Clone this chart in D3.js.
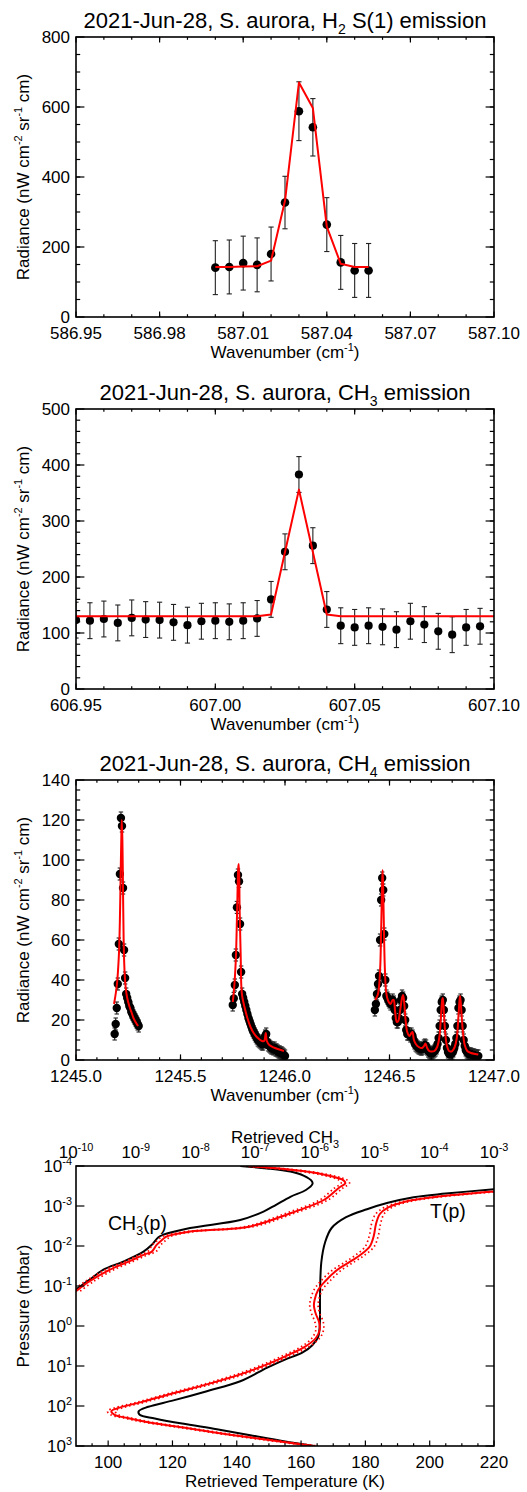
<!DOCTYPE html>
<html><head><meta charset="utf-8">
<script src="https://cdn.jsdelivr.net/npm/d3@7/dist/d3.min.js"></script>
<style>
body{margin:0;background:#fff}
svg{display:block}
text{font-family:"Liberation Sans",Arial,Helvetica,sans-serif;fill:#000}
</style>
</head><body>
<svg id="chart" width="527" height="1492"></svg>
<script>
// ---------------- DATA ----------------
// Panel 1: H2 S(1)
const h2XTicks = ["586.95","586.98","587.01","587.04","587.07","587.10"];
const h2YTicks = [0,200,400,600,800];
const h2Wn  = [587.000,587.005,587.010,587.015,587.020,587.025,587.030,587.035,587.040,587.045,587.050,587.055];
const h2Rad = [141,143,154,149,180,327,588,542,264,156,133,133];
const h2Err = [77,77,77,77,77,75,84,82,77,77,77,77];
const h2Fit = [143,143,144,145,161,332,670,597,258,152,143,143];

// Panel 2: CH3
const ch3XTicks = ["606.95","607.00","607.05","607.10"];
const ch3YTicks = [0,100,200,300,400,500];
const ch3Wn  = [606.950,606.955,606.960,606.965,606.970,606.975,606.980,606.985,606.990,606.995,
                607.000,607.005,607.010,607.015,607.020,607.025,607.030,607.035,607.040,607.045,
                607.050,607.055,607.060,607.065,607.070,607.075,607.080,607.085,607.090,607.095];
const ch3Rad = [123,122,125,118,127,124,123,119,114,121,
                122,120,122,126,160,245,383,256,142,113,
                110,113,111,106,121,115,103,97,110,112];
const ch3Err = [32,32,32,32,32,32,32,32,32,32,32,32,32,32,32,32,32,32,32,32,32,32,32,32,32,32,32,32,32,32];
const ch3FitWn  = [606.950,607.015,607.020,607.030,607.040,607.045,607.100];
const ch3FitRad = [130,130,133,356,133,130,130];

// Panel 3: CH4
const ch4XTicks = ["1245.0","1245.5","1246.0","1246.5","1247.0"];
const ch4YTicks = [0,20,40,60,80,100,120,140];
const ch4Wn = [
 1245.185,1245.190,1245.195,1245.200,1245.205,1245.210,1245.215,1245.220,1245.225,1245.230,1245.235,1245.240,
 1245.245,1245.250,1245.255,1245.260,1245.265,1245.270,1245.275,1245.280,1245.285,1245.290,1245.295,1245.300,
 1245.750,1245.755,1245.760,1245.765,1245.770,1245.775,1245.780,1245.785,1245.790,1245.795,
 1245.800,1245.805,1245.810,1245.815,1245.820,1245.825,1245.830,1245.835,1245.840,1245.845,
 1245.850,1245.855,1245.860,1245.865,1245.870,1245.875,1245.880,1245.885,1245.890,1245.895,
 1245.900,1245.905,1245.910,1245.915,1245.920,1245.925,1245.930,1245.935,1245.940,1245.945,
 1245.950,1245.955,1245.960,1245.965,1245.970,1245.975,1245.980,1245.985,1245.990,1245.995,1246.000,
 1246.430,1246.435,1246.440,1246.445,1246.450,1246.455,1246.460,1246.465,1246.470,1246.475,
 1246.480,1246.485,1246.490,1246.495,1246.500,1246.505,1246.510,1246.515,1246.520,1246.525,
 1246.530,1246.535,1246.540,1246.545,1246.550,1246.555,1246.560,1246.565,1246.570,1246.575,
 1246.580,1246.585,1246.590,1246.595,1246.600,1246.605,1246.610,1246.615,1246.620,1246.625,
 1246.630,1246.635,1246.640,1246.645,1246.650,1246.655,1246.660,1246.665,1246.670,1246.675,
 1246.680,1246.685,1246.690,1246.695,1246.700,1246.705,1246.710,1246.715,1246.720,1246.725,
 1246.730,1246.735,1246.740,1246.745,1246.750,1246.755,1246.760,1246.765,1246.770,1246.775,
 1246.780,1246.785,1246.790,1246.795,1246.800,1246.805,1246.810,1246.815,1246.820,1246.825,
 1246.830,1246.835,1246.840,1246.845,1246.850,1246.855,1246.860,1246.865,1246.870,1246.875,
 1246.880,1246.885,1246.890,1246.895,1246.900,1246.905,1246.910,1246.915,1246.920,1246.925];
const ch4Rad = [
 13,18,26,38,58,93,121,117,86,55,41,33,
 31,29,27,26,24,23,22,21,20,19,18,17,
 27.5,30.8,37.5,52.5,76.3,92.5,89.3,68,44,33,
 31,29,27,25,23,21,19.5,18,16.5,15,
 14,13,12,11,10,9.5,9,8.5,8,8,
 9,12,13,9,7.5,7,6.5,6,6,5.5,
 6,5,5,4.5,4,4,3.5,3.5,3,2.5,2,
 25,28,33,38,42,60,80,91,85,63,
 40,32,31,30,29,28,29,30,29,25,
 21,19,19,21,25,30,32,31,27,20,
 15,13,13,13,12,13,12,10,8.5,7.5,
 7,6.5,6,6,5.5,5.5,6,7,7.5,7,
 5.5,4.5,4,3.5,3.5,3.5,4,4.5,5,6,
 8,11,17,25,29,30,25,17,10,6,
 4,3,3,3,3.5,4.5,6,8,11,17,
 26,29,30,25,17,10,7,5,4,3.5,
 3,3,3,2.5,2.5,2.5,2,2,2,2];
const ch4Err = 3;
// fit, null separates the three spectral windows
const ch4FitWn = [
 1245.182,1245.195,1245.205,1245.210,1245.214,1245.217,1245.219,1245.222,1245.225,1245.228,1245.232,1245.238,1245.245,1245.255,1245.265,1245.275,1245.285,1245.297,null,
 1245.750,1245.756,1245.765,1245.771,1245.777,1245.779,1245.783,1245.788,1245.791,1245.795,1245.805,1245.820,1245.835,1245.850,1245.870,1245.890,1245.900,1245.908,1245.913,1245.925,1245.945,1245.965,1245.995,null,
 1246.432,1246.445,1246.455,1246.460,1246.464,1246.467,1246.470,1246.474,1246.478,1246.484,1246.492,1246.505,1246.515,1246.520,1246.527,1246.535,1246.542,1246.550,1246.560,1246.565,1246.570,1246.577,1246.585,1246.595,1246.605,1246.610,1246.617,1246.626,1246.640,1246.655,1246.665,1246.672,1246.680,1246.690,1246.700,1246.715,1246.728,1246.738,1246.746,1246.752,1246.755,1246.760,1246.767,1246.775,1246.785,1246.800,1246.812,1246.822,1246.830,1246.836,1246.838,1246.844,1246.852,1246.860,1246.872,1246.890,1246.910,1246.925];
const ch4FitRad = [
 28,37,52,70,95,112,120,110,85,60,45,36,31,27,24,21,19,17,null,
 29,35,51,75,97,98,75,52,37,32,27,21,16.5,13.5,11,9.5,9.5,13.5,9.5,7.5,6.3,5.5,4.5,null,
 30,33,45,65,85,95,85,62,45,34,30,28,30,30,24,19,19.5,24,31,32.5,29,20,14,12,13.5,14,10,8,6.5,6,7,8.3,6,4.5,4.2,4.5,6.5,11,21,30,31,24,13,7,4.5,4.5,6.5,11,22,31,32,24,13,7.5,4.5,3.5,3,2.7];

// Panel 4: retrieved profiles (log10 pressure in mbar)
const tXTicks = [100,120,140,160,180,200,220];
const pExpTicks = [-4,-3,-2,-1,0,1,2,3];
const qExpTicks = [-10,-9,-8,-7,-6,-5,-4,-3];
// CH3 prior (black): log10 mixing ratio, log10 p
const ch3PriorLogQ = [-7.25,-6.80,-6.41,-6.19,-6.05,-6.04,-6.15,-6.41,-6.65,-6.86,-7.25,-8.09,-8.54,-8.62,-8.73,-8.87,-9.21,-9.54,-9.77,-10.0];
const ch3PriorLogP = [-4.00,-3.94,-3.86,-3.76,-3.62,-3.55,-3.40,-3.23,-3.03,-2.86,-2.65,-2.45,-2.28,-2.22,-2.03,-1.86,-1.61,-1.41,-1.16,-0.91];
// CH3 retrieved (red)
const ch3RetLogQ = [-7.11,-6.24,-5.74,-5.52,-5.49,-5.60,-5.85,-6.41,-7.08,-8.09,-8.48,-8.56,-8.65,-8.73,-8.87,-9.09,-9.43,-9.77,-10.0];
const ch3RetLogP = [-4.00,-3.88,-3.75,-3.64,-3.57,-3.45,-3.15,-2.82,-2.49,-2.36,-2.24,-2.15,-2.03,-1.86,-1.78,-1.63,-1.41,-1.12,-0.87];
const ch3RetErr  = [0.07,0.07,0.07,0.07,0.07,0.07,0.07,0.07,0.07,0.07,0.07,0.07,0.07,0.07,0.07,0.07,0.07,0.07,0.07];
// Temperature prior (black)
const tPriorT    = [220,205,195,187,180.5,174,169.5,167.5,166.3,165.9,165.8,165.3,163.5,160.5,155,149.5,141.1,130.7,120.3,112.5,109.5,109.8,114.5,123,133.8,144.2,154.6,164];
const tPriorLogP = [-3.42,-3.31,-3.22,-3.08,-2.92,-2.72,-2.45,-2.10,-1.60,-0.80,0.00,0.28,0.48,0.66,0.84,1.04,1.38,1.63,1.86,2.02,2.13,2.22,2.31,2.44,2.58,2.73,2.88,3.0];
// Temperature retrieved (red)
const tRetT    = [220,201.3,192,187,184.5,183.3,182.6,181.3,178.5,175.5,171.2,167.5,165.3,164.2,164.0,164.6,165.6,165.8,164.6,161.0,155.6,149.4,141.1,130.7,120.3,110.0,103.5,101.0,102.0,106,112,123.4,139.0,154.6,164];
const tRetLogP = [-3.36,-3.22,-3.10,-2.96,-2.80,-2.55,-2.25,-1.98,-1.78,-1.62,-1.40,-1.12,-0.90,-0.65,-0.50,-0.30,-0.10,0.09,0.30,0.53,0.74,0.96,1.21,1.46,1.68,1.91,2.04,2.13,2.22,2.30,2.40,2.54,2.73,2.90,3.0];
const tRetErr  = [1.2,1.2,1.2,1.2,1.3,1.4,1.4,1.4,1.4,1.4,1.4,1.4,1.3,1.3,1.3,1.3,1.3,1.2,1.2,1.2,1.2,1.2,1.2,1.2,1.2,1.2,1.2,1.2,1.2,1.2,1.2,1.2,1.2,1.2,1.2];

// ---------------- LAYOUT ----------------
const svg = d3.select("#chart");
svg.append("rect").attr("width",527).attr("height",1492).attr("fill","#fff");
const L = 76, R = 494, PH = 280;
const FS = 17, TFS = 22;

function rich(g, x, y, parts, fs, anchor, rot) {
  const t = g.append("text").attr("x", x).attr("y", y)
    .attr("font-size", fs).attr("text-anchor", anchor || "start");
  if (rot) t.attr("transform", `rotate(${rot},${x},${y})`);
  let shift = 0;
  parts.forEach(p => {
    const ts = t.append("tspan").text(p.t);
    const target = p.sup ? -0.42 * fs : (p.sub ? 0.28 * fs : 0);
    if (target - shift !== 0) ts.attr("dy", target - shift);
    shift = target;
    if (p.sup || p.sub) ts.attr("font-size", fs * 0.64);
  });
  return t;
}

function frame(g, top) {
  g.append("rect").attr("x", L).attr("y", top).attr("width", R - L).attr("height", PH)
    .attr("fill", "none").attr("stroke", "#000").attr("stroke-width", 1.6);
}
function xTicks(g, sx, vals, top, len, both) {
  vals.forEach(v => {
    const x = sx(v);
    g.append("line").attr("x1", x).attr("x2", x).attr("y1", top + PH).attr("y2", top + PH - len)
      .attr("stroke", "#000").attr("stroke-width", 1.2);
    if (both) g.append("line").attr("x1", x).attr("x2", x).attr("y1", top).attr("y2", top + len)
      .attr("stroke", "#000").attr("stroke-width", 1.2);
  });
}
function yTicks(g, sy, vals, len) {
  vals.forEach(v => {
    const y = sy(v);
    g.append("line").attr("x1", L).attr("x2", L + len).attr("y1", y).attr("y2", y)
      .attr("stroke", "#000").attr("stroke-width", 1.2);
    g.append("line").attr("x1", R).attr("x2", R - len).attr("y1", y).attr("y2", y)
      .attr("stroke", "#000").attr("stroke-width", 1.2);
  });
}
function clip(id, top) {
  svg.append("clipPath").attr("id", id).append("rect")
    .attr("x", L).attr("y", top).attr("width", R - L).attr("height", PH);
}

// spectrum panel
function spectrumPanel(o) {
  const top = o.top;
  const g = svg.append("g");
  const sx = d3.scaleLinear().domain(o.xDomain).range([L, R]);
  const sy = d3.scaleLinear().domain(o.yDomain).range([top + PH, top]);
  clip(o.id, top);
  const inner = g.append("g").attr("clip-path", `url(#${o.id})`);
  // error bars
  const eb = inner.append("g").attr("stroke", "#222").attr("stroke-width", 1.1);
  o.wn.forEach((w, i) => {
    const e = Array.isArray(o.err) ? o.err[i] : o.err;
    const x = sx(w), y1 = sy(o.rad[i] - e), y2 = sy(o.rad[i] + e);
    eb.append("line").attr("x1", x).attr("x2", x).attr("y1", y1).attr("y2", y2);
    eb.append("line").attr("x1", x - o.cap).attr("x2", x + o.cap).attr("y1", y1).attr("y2", y1);
    eb.append("line").attr("x1", x - o.cap).attr("x2", x + o.cap).attr("y1", y2).attr("y2", y2);
  });
  inner.append("g").selectAll("circle").data(o.wn).join("circle")
    .attr("cx", d => sx(d)).attr("cy", (d, i) => sy(o.rad[i])).attr("r", o.r).attr("fill", "#000");
  const line = d3.line().defined((d, i) => d !== null && o.fitRad[i] !== null)
    .x(d => sx(d)).y((d, i) => sy(o.fitRad[i])).curve(o.curve || d3.curveLinear);
  inner.append("path").attr("d", line(o.fitWn)).attr("fill", "none")
    .attr("stroke", "#ff0000").attr("stroke-width", 2).attr("stroke-linejoin", "round");
  frame(g, top);
  xTicks(g, sx, o.xTicks.map(Number), top, 5.6, true);
  xTicks(g, sx, o.xMinor, top, 2.8, true);
  yTicks(g, sy, o.yTicks, 8.4);
  yTicks(g, sy, o.yMinor, 4.2);
  o.xTicks.forEach(t => g.append("text").attr("x", sx(+t)).attr("y", top + PH + 22)
    .attr("text-anchor", "middle").attr("font-size", FS).text(t));
  o.yTicks.forEach(t => g.append("text").attr("x", 70).attr("y", sy(t) + 6)
    .attr("text-anchor", "end").attr("font-size", FS).text(t));
  rich(g, (L + R) / 2, top - 9, o.title, TFS, "middle");
  rich(g, (L + R) / 2, top + PH + 41, [{t: "Wavenumber (cm"}, {t: "-1", sup: true}, {t: ")"}], FS, "middle");
  rich(g, 29, top + PH / 2, [{t: "Radiance (nW cm"}, {t: "-2", sup: true}, {t: " sr"}, {t: "-1", sup: true}, {t: " cm)"}], FS, "middle", -90);
}

spectrumPanel({
  id: "c1", top: 37, xDomain: [586.95, 587.10], yDomain: [0, 800],
  wn: h2Wn, rad: h2Rad, err: h2Err, fitWn: h2Wn, fitRad: h2Fit, r: 4.3, cap: 2.6,
  xTicks: h2XTicks, xMinor: d3.range(586.96, 587.095, 0.01),
  yTicks: h2YTicks, yMinor: d3.range(50, 800, 50),
  title: [{t: "2021-Jun-28, S. aurora, H"}, {t: "2", sub: true}, {t: " S(1) emission"}]
});
spectrumPanel({
  id: "c2", top: 409, xDomain: [606.95, 607.10], yDomain: [0, 500],
  wn: ch3Wn, rad: ch3Rad, err: ch3Err, fitWn: ch3FitWn, fitRad: ch3FitRad, r: 4.1, cap: 2.6,
  xTicks: ch3XTicks, xMinor: d3.range(606.96, 607.095, 0.01),
  yTicks: ch3YTicks, yMinor: d3.range(20, 500, 20),
  title: [{t: "2021-Jun-28, S. aurora, CH"}, {t: "3", sub: true}, {t: " emission"}]
});
spectrumPanel({
  id: "c3", top: 780, xDomain: [1245.0, 1247.0], yDomain: [0, 140],
  wn: ch4Wn, rad: ch4Rad, err: ch4Err, fitWn: ch4FitWn, fitRad: ch4FitRad, r: 4.2, cap: 2.2,
  curve: d3.curveCatmullRom.alpha(0.5),
  xTicks: ch4XTicks, xMinor: d3.range(1245.1, 1246.95, 0.1),
  yTicks: ch4YTicks, yMinor: d3.range(5, 140, 5),
  title: [{t: "2021-Jun-28, S. aurora, CH"}, {t: "4", sub: true}, {t: " emission"}]
});

// ---------------- Panel 4 ----------------
(function () {
  const top = 1166;
  const g = svg.append("g");
  const sT = d3.scaleLinear().domain([90, 220]).range([L, R]);
  const sQ = d3.scaleLog().domain([1e-10, 1e-3]).range([L, R]);
  const sP = d3.scaleLog().domain([1e-4, 1e3]).range([top, top + PH]);
  clip("c4", top);
  const inner = g.append("g").attr("clip-path", "url(#c4)");
  const curve = d3.curveCatmullRom.alpha(0.5);
  const lineQ = (q, p, dq) => d3.line().curve(curve)
    .x((d, i) => sQ(Math.pow(10, q[i] + (dq ? dq[i] : 0)))).y((d, i) => sP(Math.pow(10, p[i])))(q);
  const lineT = (t, p, dt) => d3.line().curve(curve)
    .x((d, i) => sT(t[i] + (dt ? dt[i] : 0))).y((d, i) => sP(Math.pow(10, p[i])))(t);
  const neg = a => a.map(v => -v);
  // black priors
  inner.append("path").attr("d", lineQ(ch3PriorLogQ, ch3PriorLogP)).attr("fill", "none").attr("stroke", "#000").attr("stroke-width", 2);
  inner.append("path").attr("d", lineT(tPriorT, tPriorLogP)).attr("fill", "none").attr("stroke", "#000").attr("stroke-width", 2);
  // red dotted uncertainties
  [ch3RetErr, neg(ch3RetErr)].forEach(e => inner.append("path").attr("d", lineQ(ch3RetLogQ, ch3RetLogP, e))
    .attr("fill", "none").attr("stroke", "#ff0000").attr("stroke-width", 1.7).attr("stroke-dasharray", "1.5,2.8"));
  [tRetErr, neg(tRetErr)].forEach(e => inner.append("path").attr("d", lineT(tRetT, tRetLogP, e))
    .attr("fill", "none").attr("stroke", "#ff0000").attr("stroke-width", 1.7).attr("stroke-dasharray", "1.5,2.8"));
  // red retrieved
  inner.append("path").attr("d", lineQ(ch3RetLogQ, ch3RetLogP)).attr("fill", "none").attr("stroke", "#ff0000").attr("stroke-width", 2);
  inner.append("path").attr("d", lineT(tRetT, tRetLogP)).attr("fill", "none").attr("stroke", "#ff0000").attr("stroke-width", 2);

  frame(g, top);
  // bottom temperature ticks
  tXTicks.forEach(v => {
    const x = sT(v);
    g.append("line").attr("x1", x).attr("x2", x).attr("y1", top + PH).attr("y2", top + PH - 5.6).attr("stroke", "#000").attr("stroke-width", 1.2);
    g.append("text").attr("x", x).attr("y", top + PH + 22).attr("text-anchor", "middle").attr("font-size", FS).text(v);
  });
  d3.range(95, 220, 5).filter(v => v % 20 !== 0).forEach(v => {
    const x = sT(v);
    g.append("line").attr("x1", x).attr("x2", x).attr("y1", top + PH).attr("y2", top + PH - 2.8).attr("stroke", "#000").attr("stroke-width", 1.2);
  });
  // pressure ticks
  yTicks(g, v => sP(v), pExpTicks.map(e => Math.pow(10, e)), 8.4);
  pExpTicks.forEach(e => rich(g, 72, sP(Math.pow(10, e)) + 6, [{t: "10"}, {t: String(e), sup: true}], FS, "end"));
  // top CH3 labels
  qExpTicks.forEach(e => rich(g, sQ(Math.pow(10, e)), top - 8, [{t: "10"}, {t: String(e), sup: true}], FS, "middle"));
  rich(g, (L + R) / 2, top - 23, [{t: "Retrieved CH"}, {t: "3", sub: true}], FS, "middle");
  rich(g, (L + R) / 2, top + PH + 41, [{t: "Retrieved Temperature (K)"}], FS, "middle");
  rich(g, 29, top + PH / 2, [{t: "Pressure (mbar)"}], FS, "middle", -90);
  // curve labels
  rich(g, 108, 1230, [{t: "CH"}, {t: "3", sub: true}, {t: "(p)"}], 19.5, "start");
  rich(g, 430, 1218, [{t: "T(p)"}], 19.5, "start");
})();
</script>
</body></html>
